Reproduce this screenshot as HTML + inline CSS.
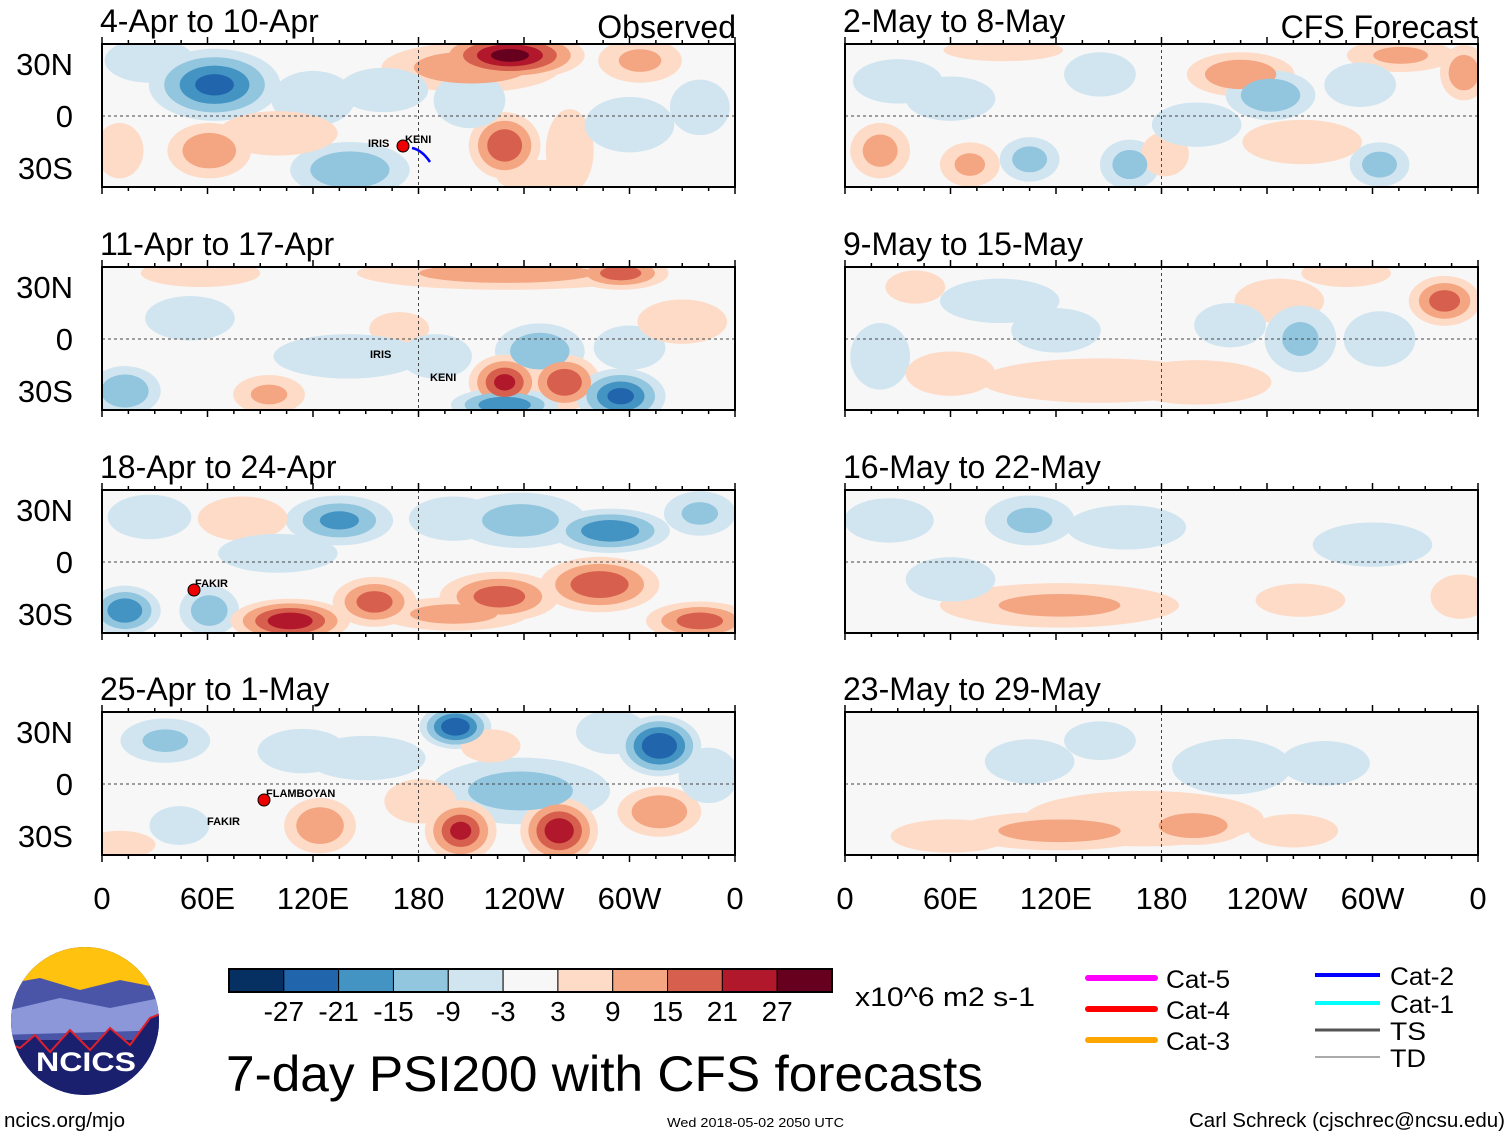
<!DOCTYPE html>
<html><head><meta charset="utf-8"><style>
html,body{margin:0;padding:0;background:#fff;}
svg{display:block;font-family:"Liberation Sans",Arial,sans-serif;}
</style></head><body>
<svg id="chart" width="1510" height="1137" viewBox="0 0 1510 1137" xmlns="http://www.w3.org/2000/svg">
<defs id="defs"></defs>
<g id="panels"></g>
<g id="bottom">
  <g>
    <clipPath id="logoclip"><circle cx="85" cy="1021" r="74"/></clipPath>
    <g clip-path="url(#logoclip)">
      <rect x="0" y="940" width="170" height="170" fill="#1a1f6e"/>
      <rect x="0" y="940" width="170" height="50" fill="#ffc20e"/>
      <polygon points="0,985 40,978 80,990 120,980 170,990 170,1040 0,1040" fill="#4a55a8"/>
      <polygon points="10,1010 60,998 110,1008 160,998 170,1030 0,1035" fill="#8b97d9"/>
      <polygon points="0,1040 20,1048 35,1035 50,1052 70,1030 90,1050 110,1028 130,1045 150,1018 170,1010 170,1140 0,1140" fill="#1a1f6e" stroke="#e0202a" stroke-width="2"/>
    </g>
    <text x="86" y="1071" font-size="27" font-weight="bold" fill="#fff" text-anchor="middle" textLength="100" lengthAdjust="spacingAndGlyphs">NCICS</text>
  </g>
  <g id="colorbar"></g>
  <text x="855" y="1006" font-size="27" textLength="180" lengthAdjust="spacingAndGlyphs">x10^6 m2 s-1</text>
  <text x="226" y="1091" font-size="50" textLength="757" lengthAdjust="spacingAndGlyphs">7-day PSI200 with CFS forecasts</text>
  <g>
    <line x1="1088" y1="978" x2="1155" y2="978" stroke="#ff00ff" stroke-width="6" stroke-linecap="round"/>
    <text x="1166" y="988" font-size="25" textLength="64" lengthAdjust="spacingAndGlyphs">Cat-5</text>
    <line x1="1088" y1="1009" x2="1155" y2="1009" stroke="#ff0000" stroke-width="6" stroke-linecap="round"/>
    <text x="1166" y="1019" font-size="25" textLength="64" lengthAdjust="spacingAndGlyphs">Cat-4</text>
    <line x1="1088" y1="1040" x2="1155" y2="1040" stroke="#ffa500" stroke-width="6" stroke-linecap="round"/>
    <text x="1166" y="1050" font-size="25" textLength="64" lengthAdjust="spacingAndGlyphs">Cat-3</text>
    <line x1="1315" y1="975" x2="1380" y2="975" stroke="#0000ff" stroke-width="4"/>
    <text x="1390" y="985" font-size="25" textLength="64" lengthAdjust="spacingAndGlyphs">Cat-2</text>
    <line x1="1315" y1="1003" x2="1380" y2="1003" stroke="#00ffff" stroke-width="4"/>
    <text x="1390" y="1013" font-size="25" textLength="64" lengthAdjust="spacingAndGlyphs">Cat-1</text>
    <line x1="1315" y1="1030" x2="1380" y2="1030" stroke="#555" stroke-width="3"/>
    <text x="1390" y="1040" font-size="25" textLength="36" lengthAdjust="spacingAndGlyphs">TS</text>
    <line x1="1315" y1="1057" x2="1380" y2="1057" stroke="#aaa" stroke-width="2"/>
    <text x="1390" y="1067" font-size="25" textLength="36" lengthAdjust="spacingAndGlyphs">TD</text>
  </g>
  <text x="4" y="1127" font-size="20" textLength="121" lengthAdjust="spacingAndGlyphs">ncics.org/mjo</text>
  <text x="667" y="1127" font-size="13" textLength="177" lengthAdjust="spacingAndGlyphs">Wed 2018-05-02 2050 UTC</text>
  <text x="1189" y="1127" font-size="20" textLength="316" lengthAdjust="spacingAndGlyphs">Carl Schreck (cjschrec@ncsu.edu)</text>
</g>
</svg>
<script>
const levels = [-27,-21,-15,-9,-3,3,9,15,21,27];
const levelLabels = ["-27","-21","-15","-9","-3","3","9","15","21","27"];
const colors = ["#053061","#2166ac","#4393c3","#92c5de","#d1e5f0","#f7f7f7","#fddbc7","#f4a582","#d6604d","#b2182b","#67001f"];
const panelTitles = ["4-Apr to 10-Apr","11-Apr to 17-Apr","18-Apr to 24-Apr","25-Apr to 1-May","2-May to 8-May","9-May to 15-May","16-May to 22-May","23-May to 29-May"];
const lonTicks = [0,60,120,180,240,300,360];
const lonLabels = ["0","60E","120E","180","120W","60W","0"];
const latTicks = [30,0,-30];
const latLabels = ["30N","0","30S"];
// blobs: [lon, lat, value, halfWidthDeg, halfHeightDeg]
const blobs0 = [[64,18,-22,22,13],[232,35,28,25,9],[210,28,14,30,9],[229,-17,20,12,12],[61,-20,14,14,10],[141,-31,-15,20,10],[209,9,-9,12,10],[27,32,-6,15,8],[306,32,10,14,8],[266,-20,9,8,15],[340,5,-6,10,10],[10,-20,6,8,10],[120,10,-6,14,10],[100,-10,4,20,8],[250,-35,6,15,6],[160,15,-5,15,8],[300,-5,-5,15,10]];
const blobs1 = [[230,38,12,50,6],[295,38,18,16,6],[249,-7,-15,15,10],[229,-25,22,12,10],[263,-25,20,12,10],[229,-38,-20,18,6],[295,-33,-22,15,10],[13,-30,-15,12,9],[95,-32,10,12,7],[169,6,6,10,6],[50,12,-6,15,8],[56,38,9,20,5],[300,-5,-8,12,8],[140,-10,-5,25,8],[330,10,5,15,8],[190,-10,-5,12,8]];
const blobs2 = [[135,24,-16,18,9],[238,24,-12,22,10],[289,18,-20,20,8],[340,28,-10,12,8],[13,-28,-20,12,9],[61,-28,-13,10,9],[107,-34,25,20,8],[155,-23,18,14,9],[226,-20,18,20,9],[283,-13,20,20,10],[340,-34,18,18,7],[27,26,-8,14,8],[200,-30,12,25,6],[80,25,5,15,8],[200,25,-6,15,8],[100,5,-5,20,7]];
const blobs3 = [[201,33,-26,12,8],[317,22,-27,14,11],[238,-4,-12,30,12],[36,25,-10,15,8],[221,22,9,10,6],[204,-27,22,12,11],[260,-27,25,13,12],[124,-24,15,12,10],[181,-10,8,12,8],[317,-16,15,14,9],[114,19,-8,15,8],[44,-24,-9,10,7],[290,30,-8,12,8],[150,15,-6,20,8],[10,-35,5,12,5],[345,5,-5,10,10]];
const blobs4 = [[225,24,15,18,8],[316,35,10,18,6],[352,25,14,8,10],[242,12,-15,15,9],[293,18,-9,12,8],[105,-25,-12,10,8],[162,-28,-12,10,9],[304,-28,-12,10,8],[20,-20,12,10,10],[71,-28,10,10,8],[182,-22,8,8,8],[30,20,-8,15,8],[145,24,-6,12,8],[90,38,8,20,4],[60,10,-5,15,8],[260,-15,5,20,8],[200,-5,-5,15,8]];
const blobs5 = [[341,22,18,12,9],[247,22,8,15,8],[259,0,-10,12,12],[219,8,-8,12,8],[88,22,-6,20,8],[145,-24,6,40,8],[304,0,-6,12,10],[285,38,6,15,5],[20,-10,-6,10,12],[40,30,8,10,6],[200,-25,5,25,8],[60,-20,5,15,8],[120,5,-5,15,8]];
const blobs6 = [[105,24,-10,15,9],[25,24,-6,15,8],[122,-25,10,40,8],[259,-22,5,15,6],[160,20,-5,20,8],[350,-20,5,10,8],[60,-10,-5,15,8],[300,10,-4,20,8]];
const blobs7 = [[122,-27,12,35,7],[198,-24,14,18,7],[255,-27,8,15,6],[145,25,-9,12,7],[105,13,-6,15,8],[273,12,-5,15,8],[170,-20,6,40,10],[60,-30,5,20,6],[220,10,-5,20,10]];
const allBlobs = [blobs0,blobs1,blobs2,blobs3,blobs4,blobs5,blobs6,blobs7];

const NS = "http://www.w3.org/2000/svg";
function mk(tag, attrs, parent){const e=document.createElementNS(NS,tag);for(const k in attrs)e.setAttribute(k,attrs[k]);if(parent)parent.appendChild(e);return e;}
const PW = 633, PH = 143;
const panelX = [102,102,102,102,845,845,845,845];
const panelY = [44,267,490,712,44,267,490,712];
function xScale(p, lon){return panelX[p] + lon/360*PW;}
function yScale(p, lat){return panelY[p] + 72 - lat*52/30;}
function colorFor(v){let i=0;while(i<levels.length && v>levels[i])i++;return colors[i];}

const root = document.getElementById('panels');
const defs = document.getElementById('defs');
for(let p=0;p<8;p++){
  const cp = mk('clipPath',{id:'clip'+p},defs);
  mk('rect',{x:panelX[p],y:panelY[p],width:PW,height:PH},cp);
  const g = mk('g',{},root);
  
  
  mk('rect',{x:panelX[p],y:panelY[p],width:PW,height:PH,fill:colors[5]},g);
  const field = mk('g',{'clip-path':'url(#clip'+p+')'},g);
  const b = allBlobs[p];
  const layers = [[],[],[],[],[]];
  for(const bl of b){
    const [lon,lat,v,rw,rh] = bl;
    const mag = Math.abs(v), sgn = Math.sign(v);
    [3,9,15,21,27].forEach((t,li)=>{
      if(t>=mag) return;
      const s = 1 - (t-3)/(mag+1) * 0.9;
      layers[li].push([xScale(p,lon),yScale(p,lat),rw*PW/360*s*1.7,rh*52/30*s*1.6,colorFor(sgn*(t+1))]);
    });
  }
  layers.forEach(L=>L.forEach(e=>{
    const ell = mk('ellipse',{cx:e[0],cy:e[1],rx:e[2],ry:e[3],fill:e[4]},field);
    
    
  }));
  mk('line',{x1:panelX[p],x2:panelX[p]+PW,y1:yScale(p,0),y2:yScale(p,0),stroke:'#444','stroke-dasharray':'3,3','stroke-width':1},g);
  mk('line',{x1:xScale(p,180),x2:xScale(p,180),y1:panelY[p],y2:panelY[p]+PH,stroke:'#444','stroke-dasharray':'3,3','stroke-width':1},g);
  mk('rect',{x:panelX[p],y:panelY[p],width:PW,height:PH,fill:'none',stroke:'#000','stroke-width':2},g);
  for(let lon=0;lon<=360;lon+=15){
    const L = lon%60===0?7:4;
    mk('line',{x1:xScale(p,lon),x2:xScale(p,lon),y1:panelY[p],y2:panelY[p]-L,stroke:'#000','stroke-width':1.5},g);
    mk('line',{x1:xScale(p,lon),x2:xScale(p,lon),y1:panelY[p]+PH,y2:panelY[p]+PH+L,stroke:'#000','stroke-width':1.5},g);
  }
  const t = mk('text',{x:panelX[p]-2,y:panelY[p]-12,'font-size':32},g);
  t.textContent = panelTitles[p];
  
  
  latTicks.forEach((la,i)=>{
    if(p<4){
      const lt = mk('text',{x:73,y:yScale(p,la)+11,'font-size':31,'text-anchor':'end'},g);
      lt.textContent = latLabels[i];
      
      
    }
  });
  if(p===3||p===7){
    lonTicks.forEach((lo,i)=>{
      const xt = mk('text',{x:xScale(p,lo),y:909,'font-size':31,'text-anchor':'middle'},g);
      xt.textContent = lonLabels[i];
      
      
    });
  }
}
const h1 = mk('text',{x:736,y:38,'font-size':32,'text-anchor':'end'},root);
h1.textContent='Observed';


const h2 = mk('text',{x:1478,y:38,'font-size':32,'text-anchor':'end'},root);
h2.textContent='CFS Forecast';


const storms = [[0,'IRIS',368,147],[0,'KENI',405,143],[1,'IRIS',370,358],[1,'KENI',430,381],[2,'FAKIR',195,587],[3,'FLAMBOYAN',266,797],[3,'FAKIR',207,825]];
storms.forEach(s=>{
  const st = mk('text',{x:s[2],y:s[3],'font-size':11,'font-weight':'bold'},root);
  st.textContent = s[1];
  
  
});
[[403,146],[194,590],[264,800]].forEach(c=>{
  const m = mk('circle',{cx:c[0],cy:c[1],r:6,fill:'#e00',stroke:'#000','stroke-width':1},root);
  
  
});
mk('path',{d:'M412,148 Q422,150 430,162',stroke:'#0000ff','stroke-width':2.5,fill:'none'},root);
const cb = document.getElementById('colorbar');
const cbX=229, cbW=603/11;
colors.forEach((c,i)=>{
  const r = mk('rect',{x:cbX+i*cbW,y:969,width:cbW,height:23,fill:c,stroke:'#000','stroke-width':1},cb);
  
  
});
mk('rect',{x:cbX,y:969,width:603,height:23,fill:'none',stroke:'#000','stroke-width':2},cb);
levelLabels.forEach((l,i)=>{
  const tx = mk('text',{x:cbX+(i+1)*cbW,y:1021,'font-size':28,'text-anchor':'middle'},cb);
  tx.textContent = l;
  
  
});
</script>
</body></html>
